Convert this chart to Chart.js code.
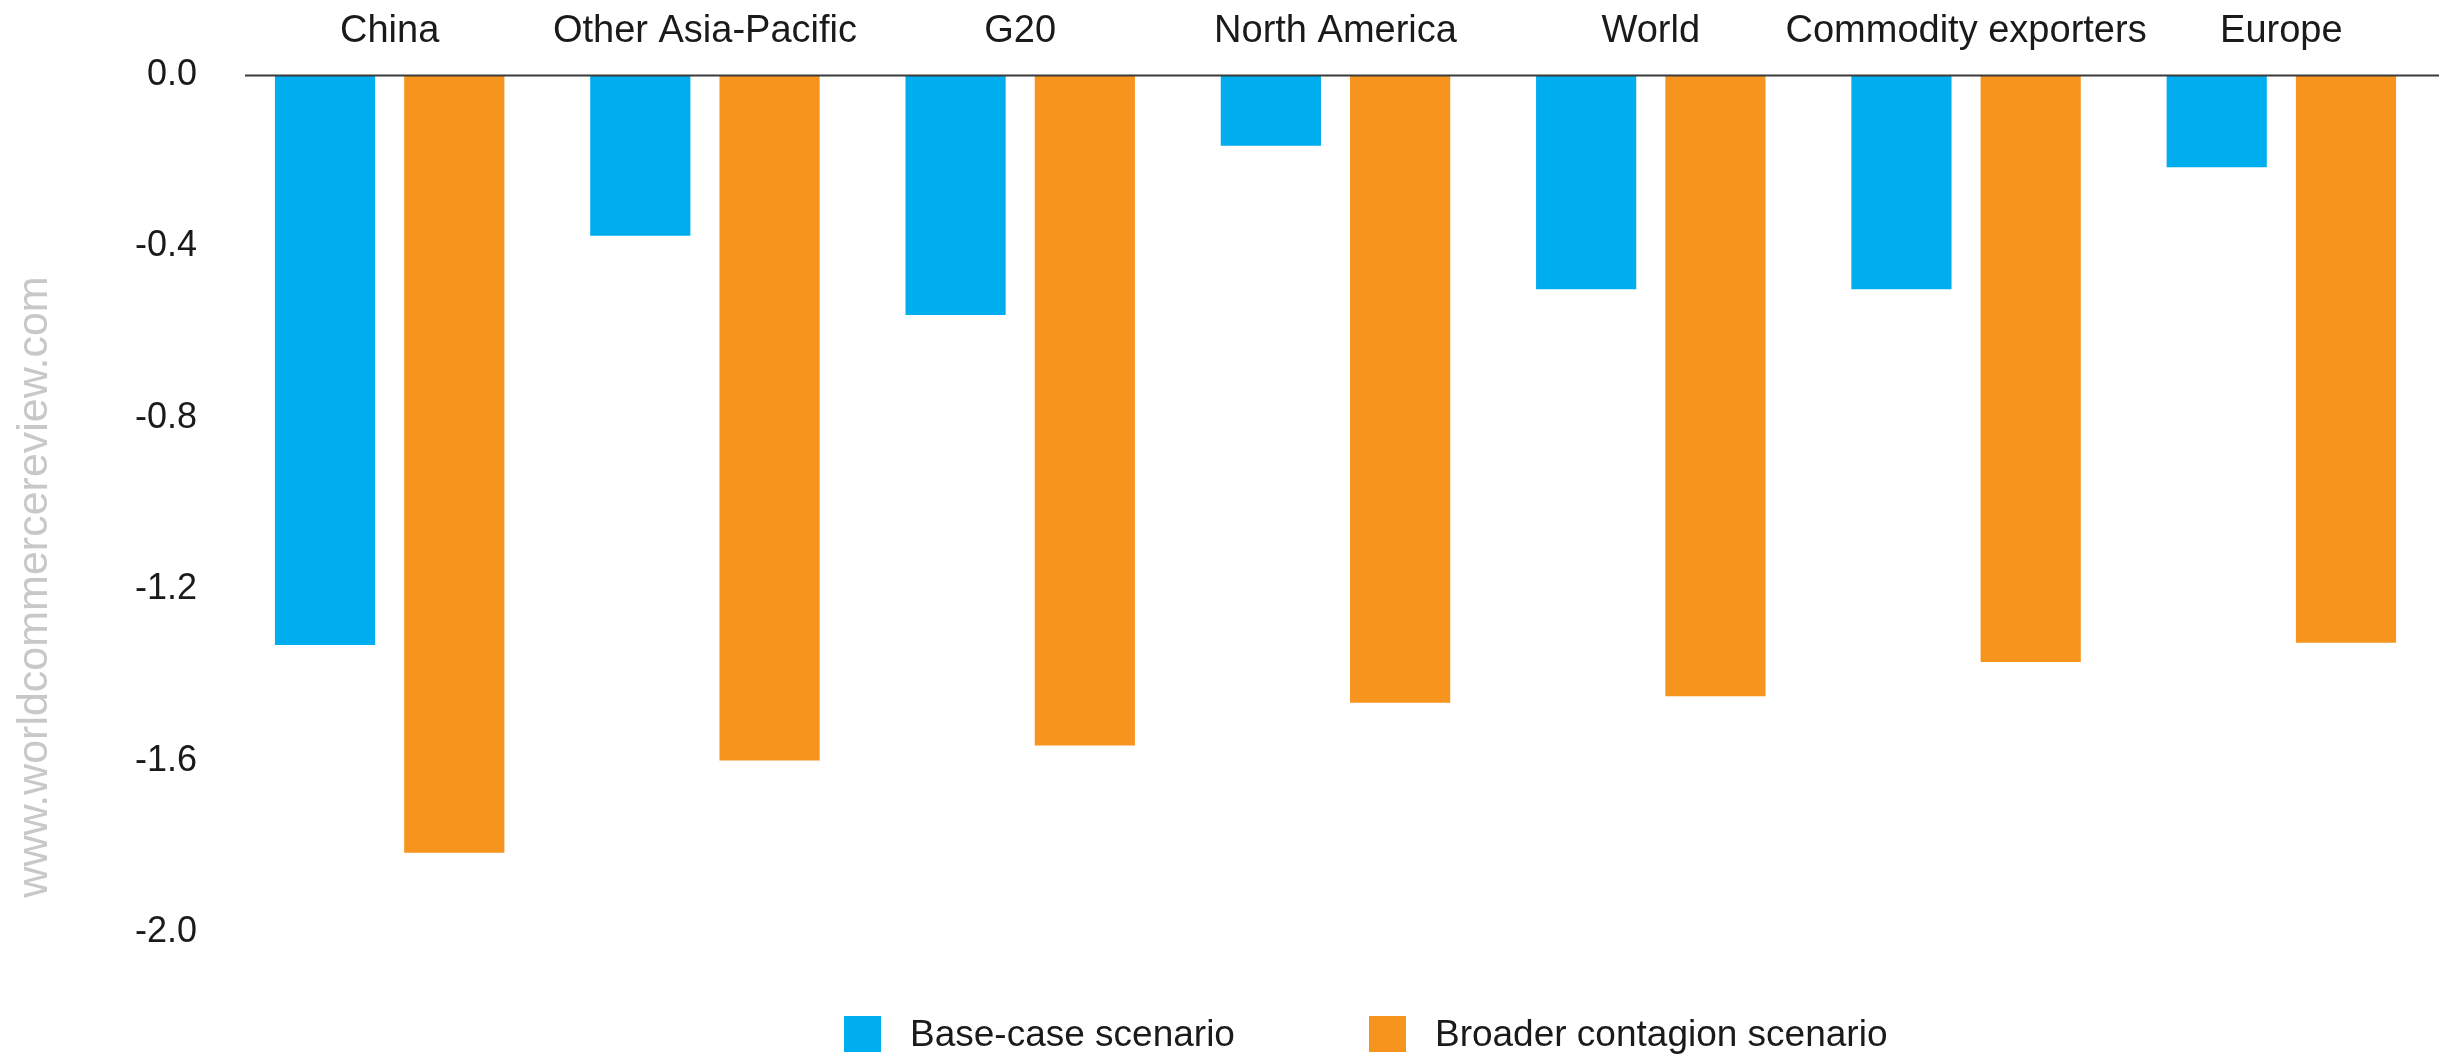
<!DOCTYPE html>
<html>
<head>
<meta charset="utf-8">
<script src="https://cdn.jsdelivr.net/npm/chart.js@4.4.1/dist/chart.umd.min.js"></script>
<style>
  html, body { margin: 0; padding: 0; background: #ffffff; }
  #wrap { position: relative; width: 2443px; height: 1058px; }
  #c { display: block; }
  #legend {
    position: absolute; left: 844px; top: 1016px; height: 36px;
    display: flex; align-items: center;
    font-family: "Liberation Sans", Arial, sans-serif; font-size: 37px; color: #1a1a1a;
  }
  .item { display: flex; align-items: center; margin-right: 134px; white-space: nowrap; }
  .sw { width: 37px; height: 36px; margin-right: 29px; }
</style>
</head>
<body>
<div id="wrap">
  <canvas id="c" width="2443" height="1058"></canvas>
  <div id="legend"></div>
</div>
<script>
// Impact on GDP growth by region (percentage points)
const regions = ['China', 'Other Asia-Pacific', 'G20', 'North America', 'World', 'Commodity exporters', 'Europe'];
const baseCase = [-1.33, -0.375, -0.56, -0.165, -0.5, -0.5, -0.215];
const broaderContagion = [-1.815, -1.6, -1.565, -1.465, -1.45, -1.37, -1.325];
const yTicks = [0, -0.4, -0.8, -1.2, -1.6, -2.0];
const seriesNames = ['Base-case scenario', 'Broader contagion scenario'];
const seriesColors = ['#00aeef', '#f7941e'];
const watermark = 'www.worldcommercereview.com';

const FONT = '"Liberation Sans", Arial, sans-serif';

// zero baseline and vertical site name
const decorations = {
  id: 'decorations',
  afterDatasetsDraw(chart) {
    const { ctx, chartArea, scales } = chart;
    const y0 = Math.round(scales.y.getPixelForValue(0)) + 0.5;
    ctx.save();
    ctx.strokeStyle = '#3a3a3a';
    ctx.lineWidth = 2;
    ctx.beginPath();
    ctx.moveTo(245, y0);
    ctx.lineTo(chartArea.right, y0);
    ctx.stroke();
    ctx.restore();
  },
  afterDraw(chart) {
    const { ctx } = chart;
    ctx.save();
    ctx.translate(35, 587);
    ctx.rotate(-Math.PI / 2);
    ctx.font = '43px ' + FONT;
    ctx.fillStyle = '#c8c8c8';
    ctx.textAlign = 'center';
    ctx.textBaseline = 'middle';
    ctx.fillText(watermark, 0, 0);
    ctx.restore();
  }
};

const chart = new Chart(document.getElementById('c'), {
  type: 'bar',
  data: {
    labels: regions,
    datasets: [
      { label: seriesNames[0], data: baseCase, backgroundColor: seriesColors[0] },
      { label: seriesNames[1], data: broaderContagion, backgroundColor: seriesColors[1] }
    ]
  },
  options: {
    responsive: false,
    animation: false,
    devicePixelRatio: 1,
    categoryPercentage: 0.82,
    barPercentage: 0.775,
    layout: { padding: { top: 0, right: 4, bottom: 126, left: 0 } },
    plugins: {
      legend: { display: false },
      tooltip: { enabled: false }
    },
    scales: {
      x: {
        position: 'top',
        grid: { display: false },
        border: { display: false },
        ticks: { color: '#1a1a1a', font: { family: FONT, size: 38 }, padding: 13, maxRotation: 0, autoSkip: false },
        afterFit(scale) { scale.height = 75; }
      },
      y: {
        min: -2.0,
        max: 0,
        grid: { display: false },
        border: { display: false },
        afterBuildTicks(scale) { scale.ticks = yTicks.map(v => ({ value: v })); },
        ticks: {
          color: '#1a1a1a',
          font: { family: FONT, size: 36 },
          padding: 27,
          callback: v => Number(v).toFixed(1)
        },
        afterFit(scale) { scale.width = 232; }
      }
    }
  },
  plugins: [decorations]
});

// legend below the plot
const legend = document.getElementById('legend');
chart.data.datasets.forEach(ds => {
  const item = document.createElement('div');
  item.className = 'item';
  const sw = document.createElement('div');
  sw.className = 'sw';
  sw.style.background = ds.backgroundColor;
  const txt = document.createElement('span');
  txt.textContent = ds.label;
  item.appendChild(sw);
  item.appendChild(txt);
  legend.appendChild(item);
});
</script>
</body>
</html>
